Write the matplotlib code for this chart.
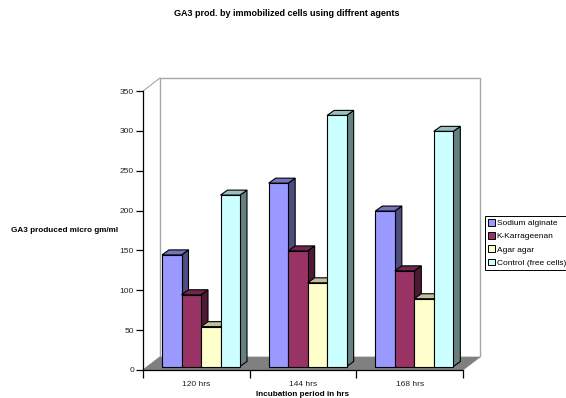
import matplotlib
matplotlib.use("Agg")
import matplotlib.pyplot as plt
from matplotlib.patches import Polygon, Rectangle

plt.rcParams['font.family'] = ['Liberation Sans', 'DejaVu Sans']

categories = ['120 hrs', '144 hrs', '168 hrs']
sodium_alginate = [140, 230, 195]
k_karrageenan = [90, 145, 120]
agar_agar = [50, 105, 85]
control = [215, 315, 295]
yticks = [0, 50, 100, 150, 200, 250, 300, 350]

series = [
    ('Sodium alginate', sodium_alginate, '#9999FF', '#7373BF', '#4D4D80'),
    ('K-Karrageenan', k_karrageenan, '#993366', '#73264D', '#4D1A33'),
    ('Agar agar', agar_agar, '#FFFFCC', '#BFBF99', '#808066'),
    ('Control (free cells)', control, '#CCFFFF', '#99BFBF', '#668080'),
]


def plot():
    W, H = 566, 398
    fig = plt.figure(figsize=(W / 100, H / 100), dpi=100)
    ax = fig.add_axes([143 / W, (H - 370) / H, 320 / W, 279 / H])
    ax.set_xlim(0, 3)
    ax.set_ylim(0, 350)

    # pixel sizes turned into data units
    px_x = 3 / 320
    px_y = 350 / 279
    wall_dx = 17 * px_x
    wall_dy = 13 * px_y
    bar_dx = 7 * px_x
    bar_dy = 5 * px_y
    lift = 3.5 * px_y
    bar_w = 19.5 * px_x
    start = 19 * px_x

    # back wall and floor
    wall = [(wall_dx, wall_dy), (wall_dx, 350 + wall_dy), (3 + wall_dx, 350 + wall_dy), (3 + wall_dx, wall_dy)]
    ax.add_patch(Polygon(wall, closed=False, fill=False, ec='#A6A6A6', lw=1.0, clip_on=False, zorder=1))
    ax.plot([0, wall_dx], [350, 350 + wall_dy], color='#A6A6A6', lw=0.8, clip_on=False, zorder=1)
    ax.plot([0, wall_dx], [0, wall_dy], color='#A6A6A6', lw=0.8, clip_on=False, zorder=1)
    floor = [(0, 0), (wall_dx, wall_dy), (3 + wall_dx, wall_dy), (3, 0)]
    ax.add_patch(Polygon(floor, closed=True, fc='#808080', ec='#808080', lw=0.5, clip_on=False, zorder=2))

    z = 3
    for i in range(len(categories)):
        for j, (name, values, front, top, side) in enumerate(series):
            x0 = i + start + j * bar_w
            x1 = x0 + bar_w
            y1 = values[i] + lift
            side_pts = [(x1, lift), (x1 + bar_dx, lift + bar_dy), (x1 + bar_dx, y1 + bar_dy), (x1, y1)]
            top_pts = [(x0, y1), (x0 + bar_dx, y1 + bar_dy), (x1 + bar_dx, y1 + bar_dy), (x1, y1)]
            ax.add_patch(Polygon(side_pts, closed=True, fc=side, ec='black', lw=0.8, clip_on=False, zorder=z))
            ax.add_patch(Polygon(top_pts, closed=True, fc=top, ec='black', lw=0.8, clip_on=False, zorder=z))
            ax.bar(x0, values[i], width=bar_w, bottom=lift, align='edge', color=front,
                   edgecolor='black', linewidth=0.8, clip_on=False, zorder=z + 0.5)
            z += 1

    for s in ['top', 'right']:
        ax.spines[s].set_visible(False)
    for s in ['left', 'bottom']:
        ax.spines[s].set_linewidth(0.9)
        ax.spines[s].set_zorder(100)

    ax.set_yticks(yticks)
    ax.set_xticks([0, 1, 2, 3])
    ax.set_xticklabels([])
    ax.set_xticks([0.5, 1.5, 2.5], categories, minor=True)
    ax.tick_params(axis='x', which='minor', length=0, labelsize=6.0, pad=8, labelcolor='#222222')
    ax.tick_params(axis='x', which='major', length=6, width=0.9)
    ax.tick_params(axis='y', length=5, width=0.9, labelsize=6.0, pad=1.5, labelcolor='#222222')

    fig.text(286.5 / W, (H - 14) / H, 'GA3 prod. by immobilized cells using diffrent agents',
             ha='center', va='center', fontsize=6.5, fontweight='bold')
    fig.text(11 / W, (H - 231) / H, 'GA3 produced micro gm/ml',
             ha='left', va='center', fontsize=5.9, fontweight='bold')
    fig.text(303 / W, (H - 394) / H, 'Incubation period in hrs',
             ha='center', va='center', fontsize=5.9, fontweight='bold')

    handles = [Rectangle((0, 0), 1, 1, fc=s[2], ec='black', lw=0.7) for s in series]
    leg = fig.legend(handles, [s[0] for s in series], loc='lower left',
                     bbox_to_anchor=(485 / W, (H - 269.5) / H), borderaxespad=0,
                     fontsize=6.0, fancybox=False, framealpha=1, edgecolor='black',
                     handlelength=0.8, handleheight=0.8, handletextpad=0.25,
                     labelspacing=0.6, borderpad=0.35)
    leg.get_frame().set_linewidth(0.7)

    fig.savefig('out.png', dpi=100)


if __name__ == "__main__":
    plot()
